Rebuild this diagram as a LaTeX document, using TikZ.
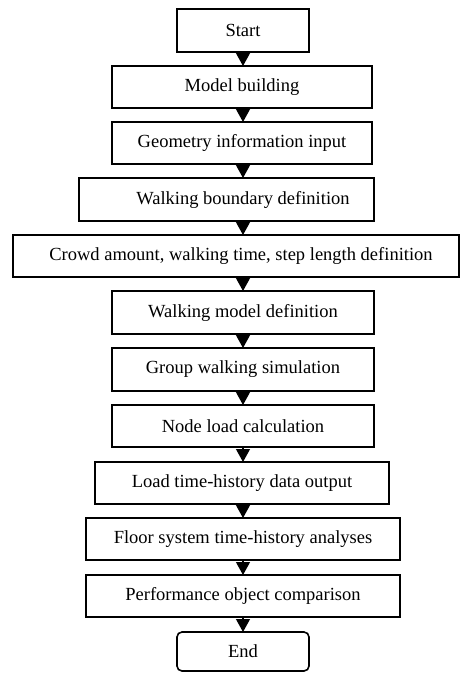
\documentclass[tikz,border=0pt]{standalone}
\usepackage{fontspec}
\setmainfont{Liberation Serif}
\usetikzlibrary{arrows.meta}
\begin{document}
\begin{tikzpicture}[x=1pt,y=-1pt,
  box/.style={draw=black, line width=1.6pt, inner sep=0pt, align=center,
    font=\fontsize{18.5}{22}\selectfont},
  arr/.style={line width=1.2pt, -{Triangle[width=14pt,length=13pt]}, shorten >=-0.8pt}]
\useasboundingbox (0,0) rectangle (463,673);
\coordinate (ax) at (243,0);
\node[box, minimum width=132pt, minimum height=43pt] (start) at (243,30.5) {Start};
\node[box, minimum width=260pt, minimum height=42pt] (model) at (242,87) {Model building};
\node[box, minimum width=260pt, minimum height=42pt] (geo) at (242,143) {Geometry information input};
\node[box, minimum width=295pt, minimum height=43pt] (bound) at (226.5,199.5) {\hspace*{33pt}Walking boundary definition};
\node[box, minimum width=446pt, minimum height=42pt] (crowd) at (236,256) {\hspace*{10pt}Crowd amount, walking time, step length definition};
\node[box, minimum width=262pt, minimum height=43pt] (wmodel) at (243,312.5) {Walking model definition};
\node[box, minimum width=262pt, minimum height=43pt] (group) at (243,369.5) {Group walking simulation};
\node[box, minimum width=262pt, minimum height=42pt] (nload) at (243,426) {Node load calculation};
\node[box, minimum width=294pt, minimum height=42pt] (ltime) at (242,483) {Load time-history data output};
\node[box, minimum width=314pt, minimum height=42pt] (floor) at (243,539) {Floor system time-history analyses};
\node[box, minimum width=314pt, minimum height=42pt] (perf) at (243,596) {Performance object comparison};
\node[box, rounded corners=5pt, minimum width=132pt, minimum height=39pt] (end) at (243,651.5) {End};
\foreach \a/\b in {start/model, model/geo, geo/bound, bound/crowd, crowd/wmodel,
  wmodel/group, group/nload, nload/ltime, ltime/floor, floor/perf, perf/end}
  \draw[arr] (\a.south -| ax) -- (\b.north -| ax);
\end{tikzpicture}
\end{document}
